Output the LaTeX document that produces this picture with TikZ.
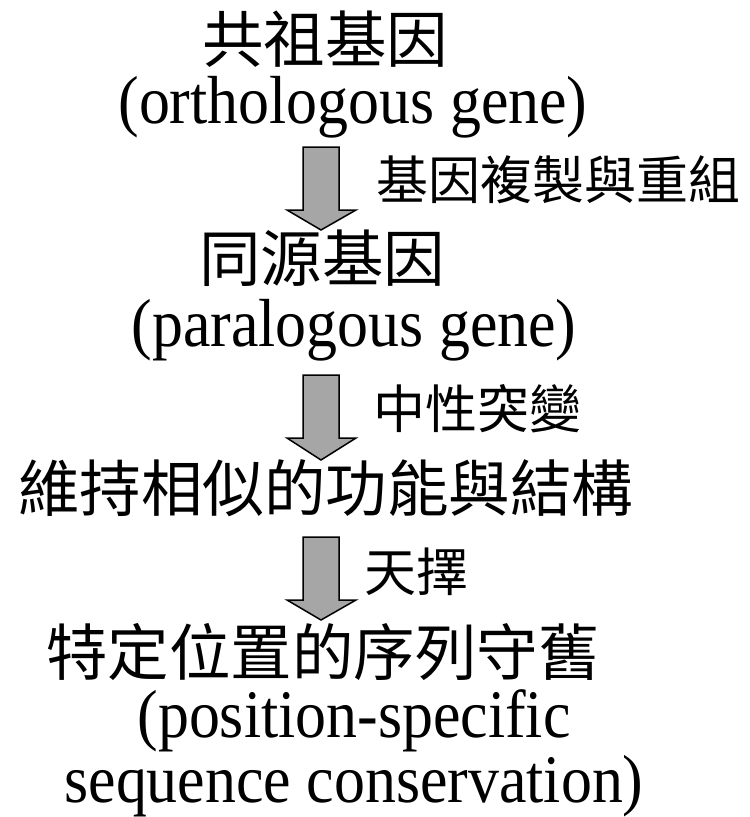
\documentclass[tikz,border=0pt]{standalone}
\usepackage{fontspec}
\setmainfont{Liberation Serif}
\newfontfamily\cjk{Noto Sans CJK TC}
\usepackage{graphicx}
\begin{document}
\begin{tikzpicture}[x=1pt,y=-1pt,
  cjkbig/.style={inner sep=0pt, font=\cjk\fontsize{61.5}{61.5}\selectfont},
  cjksmall/.style={inner sep=0pt, font=\cjk\fontsize{52}{52}\selectfont},
  eng/.style={inner sep=0pt, font=\fontsize{68}{68}\selectfont},
  blockarrow/.style={draw=black, line width=1.5pt, fill=black!35, line join=miter}]
\useasboundingbox (0,0) rectangle (750,817);
\fill[white] (0,0) rectangle (750,817);

\node[cjkbig] (t1) at (325,39) {共祖基因};
\node[eng] (e1) at (353,107) {\scalebox{0.91}[1]{(orthologous gene)}};
\node[cjksmall, anchor=west] (l1) at (376,180) {基因複製與重組};
\node[cjkbig] (t2) at (322,258) {同源基因};
\node[eng] (e2) at (354,330) {\scalebox{0.91}[1]{(paralogous gene)}};
\node[cjksmall, anchor=west] (l2) at (373,409) {中性突變};
\node[cjkbig] (t3) at (326,488) {維持相似的功能與結構};
\node[cjksmall, anchor=west] (l3) at (364,572) {天擇};
\node[cjkbig] (t4) at (323,652) {特定位置的序列守舊};
\node[eng] (e4a) at (354,721) {\scalebox{0.91}[1]{(position-specific}};
\node[eng] (e4b) at (354,786) {\scalebox{0.91}[1]{sequence conservation)}};

\foreach \top/\base/\tip in {147/210/230, 375/438/460, 537/600/620}{
  \draw[blockarrow] (303,\top) -- (339,\top) -- (339,\base) -- (356,\base)
    -- (321,\tip) -- (287,\base) -- (303,\base) -- cycle;
}
\end{tikzpicture}
\end{document}
